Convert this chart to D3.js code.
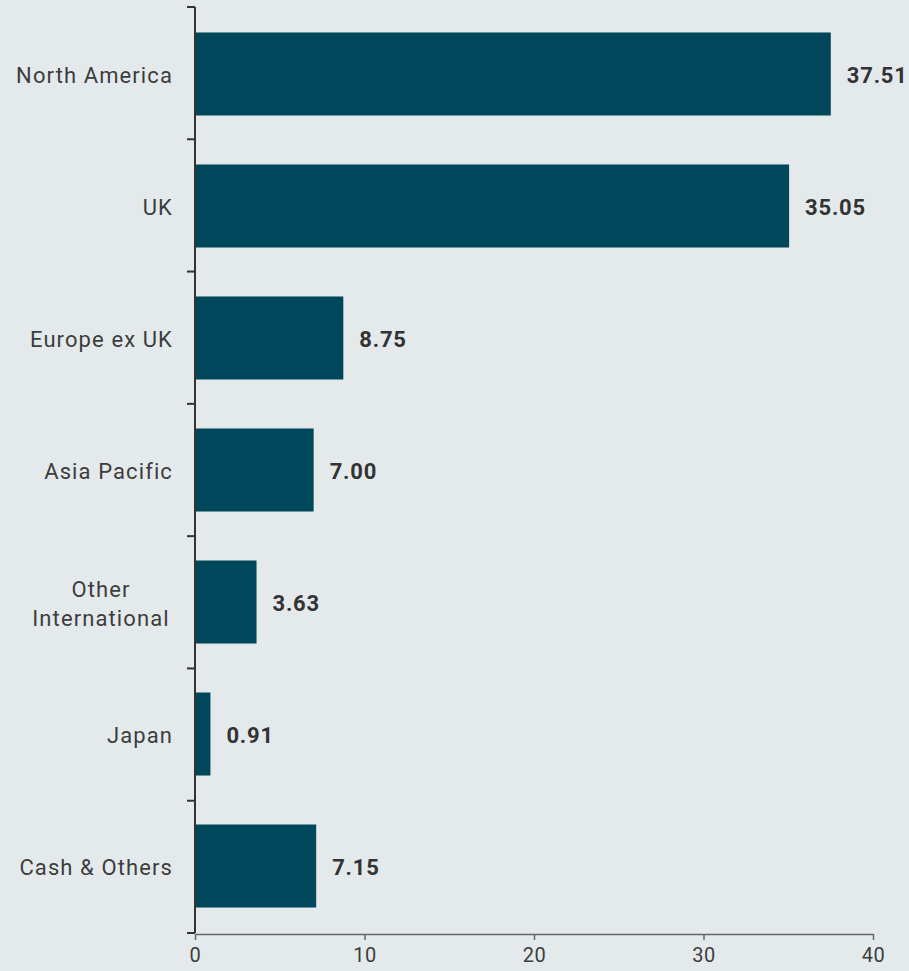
<!DOCTYPE html>
<html>
<head>
<meta charset="utf-8">
<script src="https://cdn.jsdelivr.net/npm/d3@7"></script>
<style>
  body { margin: 0; background: #e4eaec; }
  svg { display: block; font-family: Roboto, "Noto Sans", sans-serif; }
</style>
</head>
<body>
<svg id="chart"></svg>
<script>
var regions = ["North America", "UK", "Europe ex UK", "Asia Pacific", "Other International", "Japan", "Cash & Others"];
var weights = [37.51, 35.05, 8.75, 7.00, 3.63, 0.91, 7.15];
var xTicks = [0, 10, 20, 30, 40];

var width = 909, height = 971;
var margin = { top: 7, right: 36, bottom: 38, left: 195 };

var svg = d3.select("#chart").attr("width", width).attr("height", height);
svg.append("rect").attr("width", width).attr("height", height).attr("fill", "#e4eaec");

var x = d3.scaleLinear().domain([0, 40]).range([margin.left, width - margin.right]);
var y = d3.scaleBand().domain(regions).range([margin.top, height - margin.bottom])
  .paddingInner(0.371).paddingOuter(0.193);

// bars
svg.append("g").selectAll("rect")
  .data(regions)
  .enter().append("rect")
  .attr("x", x(0))
  .attr("y", function (d) { return y(d); })
  .attr("width", function (d, i) { return x(weights[i]) - x(0); })
  .attr("height", y.bandwidth())
  .attr("fill", "#01475b");

// value labels
svg.append("g").selectAll("text")
  .data(regions)
  .enter().append("text")
  .attr("x", function (d, i) { return x(weights[i]) + 16; })
  .attr("y", function (d) { return y(d) + y.bandwidth() / 2; })
  .attr("dy", "0.42em")
  .attr("font-size", 22)
  .attr("font-weight", "bold")
  .attr("letter-spacing", 0.8)
  .attr("fill", "#333")
  .text(function (d, i) { return weights[i].toFixed(2); });

// y axis: line with ticks between categories
var yAxis = svg.append("g");
var y0 = margin.top, y1 = height - margin.bottom;
var tickStep = (y1 - y0) / regions.length;
yAxis.append("line").attr("x1", x(0)).attr("x2", x(0)).attr("y1", y0).attr("y2", y1)
  .attr("stroke", "#333").attr("stroke-width", 2);
d3.range(regions.length + 1).forEach(function (i) {
  var yy = y0 + i * tickStep;
  yAxis.append("line").attr("x1", x(0) - 8).attr("x2", x(0)).attr("y1", yy).attr("y2", yy)
    .attr("stroke", "#333").attr("stroke-width", 2);
});

// category labels
svg.append("g").selectAll("text")
  .data(regions)
  .enter().append("text")
  .attr("text-anchor", "end")
  .attr("font-size", 22)
  .attr("letter-spacing", 1.1)
  .attr("fill", "#3d3d3d")
  .each(function (d) {
    var t = d3.select(this);
    var lines = d === "Other International" ? ["Other", "International"] : [d];
    var cy = y(d) + y.bandwidth() / 2;
    var lh = 29;
    lines.forEach(function (l, j) {
      var tx = t.append("tspan").attr("x", x(0) - 22)
        .attr("y", cy + (j - (lines.length - 1) / 2) * lh)
        .attr("dy", "0.42em")
        .text(l);
      if (lines.length > 1) tx.attr("text-anchor", "middle").attr("x", 101);
    });
  });

// x axis
var xAxis = svg.append("g").attr("transform", "translate(0," + (y1 + 1) + ")")
  .call(d3.axisBottom(x).tickValues(xTicks).tickSize(6).tickSizeOuter(0).tickPadding(8));
xAxis.select(".domain").attr("stroke", "#666").attr("stroke-width", 1.5);
xAxis.selectAll(".tick line").attr("stroke", "#666").attr("stroke-width", 1.5);
xAxis.selectAll(".tick text").attr("font-size", 20).attr("fill", "#3d3d3d")
  .attr("letter-spacing", 0.6)
  .attr("font-family", "Roboto, sans-serif");
</script>
</body>
</html>
